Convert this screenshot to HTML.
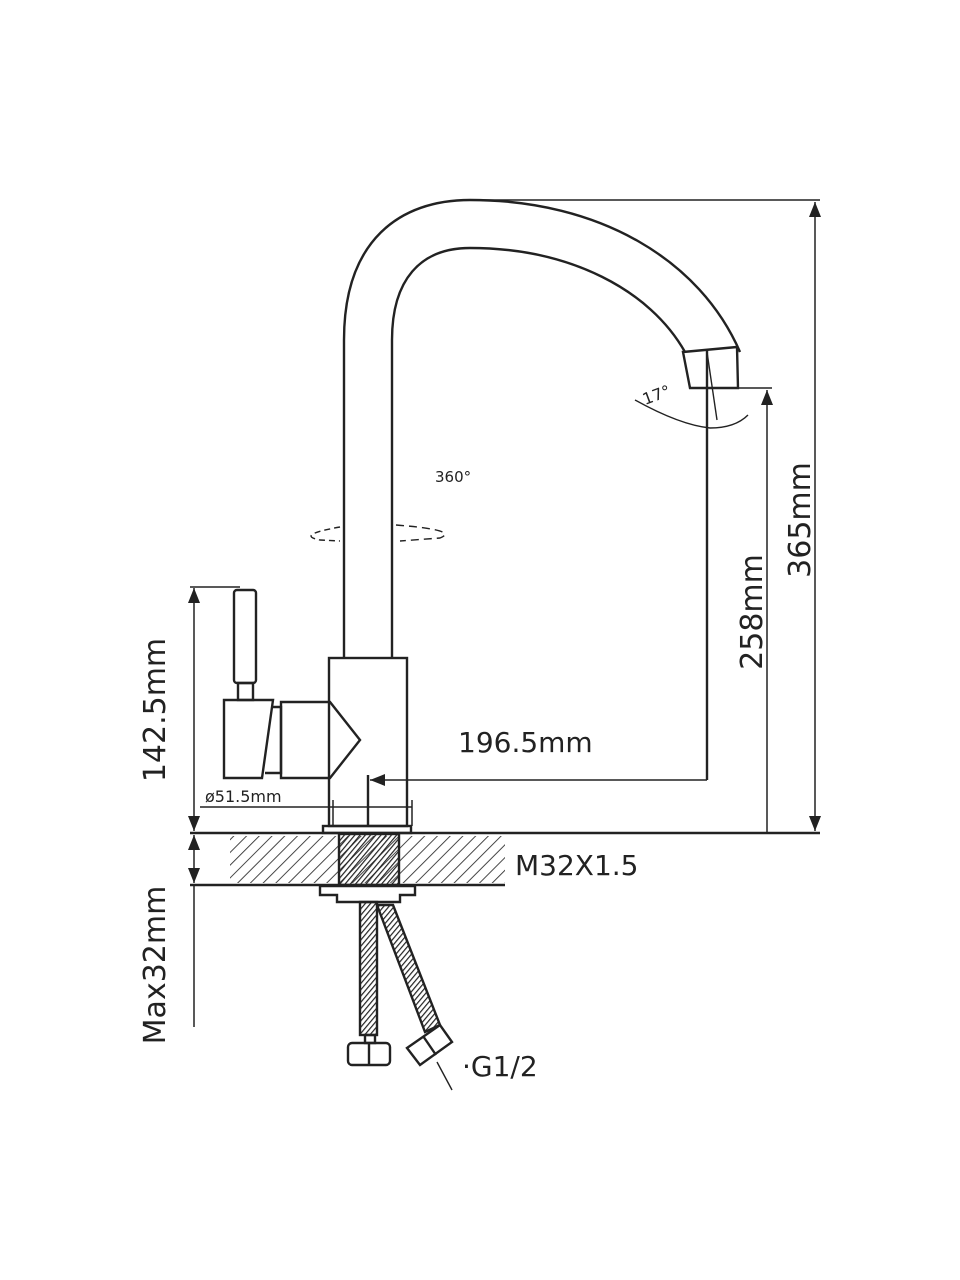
<!DOCTYPE html>
<html><head><style>body{margin:0;background:#fff}svg{display:block}text{font-family:"DejaVu Sans","Liberation Sans",sans-serif;fill:#222}</style></head><body>
<svg width="960" height="1280" viewBox="0 0 960 1280" xmlns="http://www.w3.org/2000/svg">
<defs>
<pattern id="h" width="9" height="9" patternUnits="userSpaceOnUse" patternTransform="rotate(45)"><line x1="0" y1="0" x2="0" y2="9" stroke="#333" stroke-width="1.8"/></pattern>
<pattern id="b" width="4" height="4" patternUnits="userSpaceOnUse" patternTransform="rotate(40)"><line x1="0" y1="0" x2="0" y2="4" stroke="#222" stroke-width="2.4"/></pattern>
<marker id="a" markerWidth="10" markerHeight="8" refX="10" refY="4" orient="auto-start-reverse"><path d="M0,0 L10,4 L0,8Z" fill="#222"/></marker>
</defs>
<g fill="none" stroke="#222" stroke-width="2.4">
<path d="M344,658 L344,340 C344,240 400,200 470,200 C600,200 700,260 740,352"/>
<path d="M392,658 L392,340 C392,280 420,248 470,248 C570,248 650,290 685,352"/>
<path d="M683,352 L737,347 L738,388 L690,388 Z"/>
<line x1="707" y1="350" x2="707" y2="780"/>
<line x1="707" y1="352" x2="717" y2="420" stroke-width="1.4"/>
<path d="M635,400 Q680,425 710,428 Q735,428 748,415" stroke-width="1.4"/>
<path d="M340,527 Q295,535 320,540 L340,541" stroke-dasharray="6,4" stroke-width="1.4"/>
<path d="M396,525 Q460,530 440,538 L400,541" stroke-dasharray="8,5" stroke-width="1.4"/>
<rect x="329" y="658" width="78" height="168"/>
<rect x="323" y="826" width="88" height="7"/>
<line x1="368" y1="775" x2="368" y2="826"/>
<rect x="234" y="590" width="22" height="93" rx="3"/>
<rect x="238" y="683" width="15" height="17"/>
<path d="M224,700 L273,700 L262,778 L224,778 Z"/>
<path d="M273,707 L281,707 L281,773 L265,773"/>
<path d="M281,702 L330,702 L360,740 L330,778 L281,778 Z"/>
<line x1="190" y1="833" x2="820" y2="833"/>
<line x1="190" y1="885" x2="505" y2="885"/>
<rect x="230" y="836" width="275" height="47" fill="url(#h)" stroke="none"/>
<rect x="339" y="834" width="60" height="51" fill="url(#b)" stroke="#222"/>
<path d="M320,886 L415,886 L415,895 L400,895 L400,902 L337,902 L337,895 L320,895 Z" fill="#fff"/>
<rect x="360" y="902" width="17" height="133" fill="url(#b)"/>
<path d="M377,905 L393,905 L440,1025 L425,1032 Z" fill="url(#b)"/>
<rect x="348" y="1043" width="42" height="22" rx="4"/>
<line x1="369" y1="1043" x2="369" y2="1065"/>
<rect x="365" y="1035" width="10" height="8"/>
<path d="M407,1048 L440,1025 L452,1042 L420,1065 Z"/>
<line x1="423" y1="1036" x2="436" y2="1055"/>
<line x1="437" y1="1062" x2="452" y2="1090" stroke-width="1.4"/>
<g stroke-width="1.5">
<line x1="194" y1="588" x2="194" y2="831" marker-start="url(#a)" marker-end="url(#a)"/>
<line x1="190" y1="587" x2="240" y2="587"/>
<line x1="194" y1="835" x2="194" y2="883" marker-start="url(#a)" marker-end="url(#a)"/>
<line x1="194" y1="885" x2="194" y2="1027"/>
<line x1="767" y1="390" x2="767" y2="833" marker-start="url(#a)"/>
<line x1="738" y1="388" x2="772" y2="388"/>
<line x1="815" y1="202" x2="815" y2="831" marker-start="url(#a)" marker-end="url(#a)"/>
<line x1="470" y1="200" x2="820" y2="200"/>
<line x1="370" y1="780" x2="707" y2="780" marker-start="url(#a)"/>
<line x1="200" y1="807" x2="412" y2="807"/>
<line x1="333" y1="800" x2="333" y2="826"/>
<line x1="412" y1="800" x2="412" y2="826"/>
</g>
</g>
<text x="435" y="482" font-size="15">360°</text>
<text x="645" y="405" font-size="16" transform="rotate(-20 645 405)">17°</text>
<text x="458" y="752" font-size="28">196.5mm</text>
<text x="205" y="802" font-size="16">ø51.5mm</text>
<text x="515" y="875" font-size="28">M32X1.5</text>
<text x="462" y="1076" font-size="28">·G1/2</text>
<text transform="translate(810,520) rotate(-90)" font-size="30" text-anchor="middle">365mm</text>
<text transform="translate(762,612) rotate(-90)" font-size="30" text-anchor="middle">258mm</text>
<text transform="translate(165,710) rotate(-90)" font-size="30" text-anchor="middle">142.5mm</text>
<text transform="translate(165,965) rotate(-90)" font-size="30" text-anchor="middle">Max32mm</text>
</svg>
</body></html>
